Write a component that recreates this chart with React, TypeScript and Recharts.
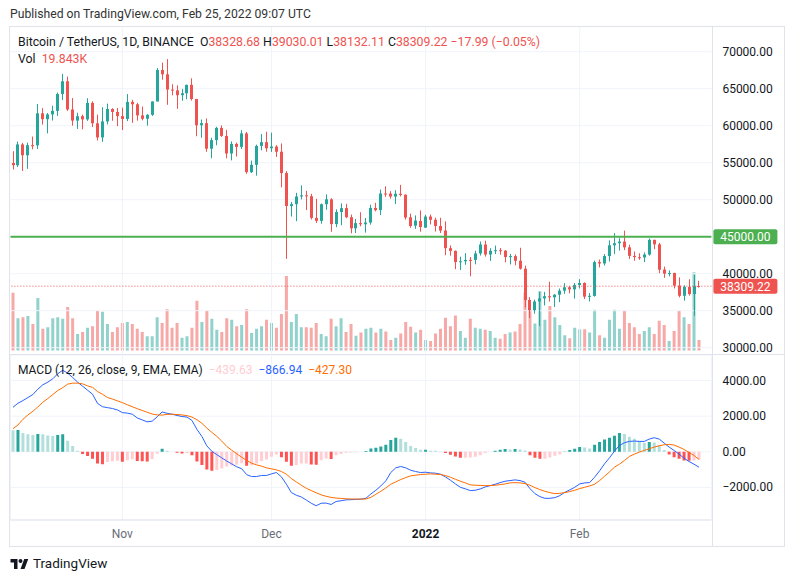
import React from 'react';
import { ComposedChart, Bar, Line, XAxis, YAxis, CartesianGrid, ReferenceLine, Cell } from 'recharts';

// daily candles, BTC/USDT on Binance, from 2021-10-10 to 2022-02-25
const firstDay = Date.UTC(2021, 9, 10);
const padDays = 2;

const opens = [
  54952, 54660, 57471, 56006, 57370, 57347, 61672, 60875, 61528, 62005,
  64280, 66002, 62193, 60689, 61286, 60852, 63078, 60328, 58413, 60575,
  62253, 61859, 61300, 60911, 63220, 62896, 61396, 60941, 61470, 63274,
  67525, 66947, 64883, 64774, 64123, 64380, 65519, 63607, 60059, 60345,
  56892, 58052, 59707, 58617, 56247, 57541, 57138, 58960, 53723, 54716,
  57274, 57776, 56950, 57184, 56485, 53601, 49153, 49397, 50441, 50588,
  50471, 47535, 47140, 49389, 50053, 46702, 48336, 48864, 47632, 46134,
  46834, 46681, 46914, 48887, 48588, 50839, 50820, 50428, 50802, 50679,
  47623, 46490, 47120, 46216, 47722, 47286, 46446, 45832, 43451, 43082,
  41567, 41679, 41865, 41865, 42736, 43946, 42592, 43099, 43177, 43114,
  42250, 42375, 41744, 40680, 36445, 35071, 36244, 36660, 36958, 36807,
  37161, 37712, 38166, 37882, 38467, 38744, 36897, 37005, 41571, 41382,
  42380, 43840, 44118, 44339, 43565, 42408, 42236, 42198, 42586, 44578,
  43961, 40552, 40000, 40100, 38386, 37017, 38230, 37250, 38328.68,
];
const highs = [
  56561, 57839, 57680, 57700, 58532, 62933, 62378, 61718, 62695, 64486,
  67000, 66639, 63733, 61747, 61500, 63710, 63293, 61496, 62499, 62980,
  62359, 62405, 62437, 64270, 63500, 63086, 62595, 61560, 63286, 67789,
  68524, 69000, 65600, 65450, 64971, 65550, 66401, 63617, 60840, 60977,
  58367, 59845, 60029, 59444, 57875, 57710, 59398, 59150, 55280, 57445,
  58865, 59176, 59053, 57375, 57600, 53860, 49700, 50935, 51936, 51200,
  50797, 50125, 49485, 50724, 50205, 48700, 49500, 49436, 47995, 47392,
  48300, 47537, 49328, 49576, 51375, 51810, 51156, 51280, 52000, 50704,
  48119, 47879, 48548, 47954, 47990, 47570, 47557, 47070, 43817, 43145,
  42300, 42786, 42248, 43100, 44350, 44459, 43448, 43800, 43476, 43179,
  42675, 42600, 43505, 41100, 36835, 36499, 37550, 37545, 38919, 37234,
  38000, 38720, 38360, 38744, 39265, 38835, 37387, 41772, 41913, 42656,
  44500, 45492, 44795, 45821, 43920, 43000, 42760, 42876, 44769, 44578,
  44164, 40960, 40444, 40126, 39494, 38429, 39249, 39843, 39030.01,
];
const lows = [
  54080, 54415, 53879, 54167, 56818, 56850, 60150, 58963, 60694, 61322,
  63481, 62000, 60000, 59562, 59510, 60650, 59817, 58000, 57820, 60174,
  60673, 59945, 59405, 60624, 60382, 60677, 60721, 60005, 61322, 63273,
  66222, 62822, 64100, 62278, 63360, 63576, 63400, 58575, 58373, 56474,
  55600, 57353, 58486, 55610, 55317, 55837, 56855, 53500, 53610, 53256,
  56666, 56480, 56458, 55777, 51680, 42000, 47727, 47100, 50039, 48600,
  47320, 46852, 46751, 48650, 45673, 46290, 46547, 47511, 45456, 45500,
  46406, 45558, 46630, 48421, 47920, 50384, 50142, 49412, 50449, 47313,
  46201, 46060, 45678, 46208, 46654, 45696, 45500, 42500, 42430, 40610,
  40501, 41200, 39650, 41268, 42450, 42311, 41725, 42654, 42578, 41540,
  41250, 41138, 40553, 35440, 34008, 34601, 32917, 35701, 36234, 35507,
  36155, 37268, 37352, 36632, 38000, 36586, 36250, 36900, 40843, 41116,
  41645, 42667, 43117, 43188, 42000, 41748, 41880, 41571, 42428, 43310,
  40073, 39450, 39639, 38000, 36800, 36350, 37036, 34322, 38132.11,
];
const closes = [
  54660, 57471, 56006, 57367, 57347, 61672, 60875, 61528, 62010, 64280,
  66001, 62193, 60689, 61286, 60852, 63078, 60328, 58413, 60575, 62253,
  61859, 61299, 60911, 63219, 62896, 61395, 60937, 61470, 63273, 67525,
  66947, 64882, 64774, 64122, 64380, 65519, 63607, 60058, 60345, 56892,
  58052, 59707, 58622, 56247, 57541, 57139, 58960, 53726, 54721, 57274,
  57776, 56950, 57184, 56480, 53601, 49152, 49397, 50441, 50588, 50471,
  47545, 47140, 49389, 50053, 46702, 48343, 48864, 47632, 46131, 46834,
  46681, 46914, 48890, 48589, 50838, 50821, 50429, 50809, 50640, 47588,
  46444, 47178, 46306, 47722, 47286, 46446, 45832, 43451, 43082, 41567,
  41679, 41864, 41822, 42736, 43949, 42592, 43100, 43177, 43114, 42250,
  42375, 41744, 40680, 36445, 35071, 36244, 36660, 36958, 36810, 37161,
  37712, 38166, 37881, 38467, 38744, 36897, 37005, 41571, 41382, 42380,
  43840, 44118, 44338, 43565, 42407, 42244, 42197, 42586, 44575, 43961,
  40538, 40000, 40100, 38386, 37017, 38230, 37250, 38328.68, 38309.22,
];
// volume in thousands of BTC
const volumes = [
  109, 61, 63, 65, 50, 99, 41, 44, 61, 63,
  60, 82, 61, 31, 35, 43, 46, 75, 73, 50,
  35, 44, 52, 54, 50, 41, 35, 27, 27, 63,
  52, 78, 43, 52, 24, 27, 43, 94, 54, 75,
  60, 39, 35, 61, 58, 46, 48, 78, 33, 41,
  46, 58, 52, 43, 69, 141, 54, 69, 44, 44,
  43, 52, 31, 27, 60, 46, 61, 35, 50, 28,
  34, 41, 43, 34, 41, 36, 20, 24, 32, 54,
  45, 34, 39, 20, 18, 32, 41, 62, 46, 66,
  37, 24, 60, 43, 41, 39, 37, 24, 22, 31,
  34, 36, 50, 109, 77, 51, 112, 58, 84, 63,
  48, 29, 23, 43, 40, 40, 34, 77, 29, 24,
  58, 77, 41, 75, 52, 44, 31, 37, 44, 31,
  56, 48, 18, 37, 75, 63, 50, 148, 19.843,
];
const macdLine = [
  2500, 2726, 2876, 3046, 3215, 3516, 3760, 3910, 4098, 4380,
  4580, 4418, 4174, 3910, 3685, 3459, 3234, 2720, 2530, 2480,
  2430, 2350, 2200, 2170, 2110, 1900, 1790, 1680, 1720, 1960,
  2237, 2160, 2110, 2040, 1980, 1950, 1760, 1260, 860, 330,
  30, -160, -340, -520, -680, -840, -950, -1280, -1390, -1390,
  -1330, -1330, -1240, -1165, -1410, -1820, -2290, -2440, -2540, -2710,
  -2890, -3030, -2890, -2880, -2960, -2790, -2750, -2700, -2690, -2675,
  -2660, -2613, -2369, -2162, -1918, -1636, -1166, -902, -827, -902,
  -1034, -1109, -1166, -1147, -1184, -1203, -1260, -1410, -1598, -1805,
  -1993, -2080, -2180, -2160, -2087, -1974, -1899, -1824, -1730, -1654,
  -1617, -1579, -1617, -1711, -2068, -2350, -2519, -2613, -2613, -2576,
  -2463, -2275, -2143, -1993, -1805, -1748, -1730, -1429, -1072, -677,
  -338, 38, 357, 508, 583, 602, 583, 583, 714, 790,
  714, 489, 263, 75, -132, -357, -545, -696, -866.94,
];
const signalLine = [
  1297, 1504, 1824, 2068, 2275, 2519, 2780, 2989, 3215, 3440,
  3600, 3798, 3854, 3854, 3816, 3700, 3620, 3384, 3230, 3050,
  2960, 2860, 2760, 2640, 2530, 2420, 2320, 2220, 2120, 2070,
  2060, 2100, 2110, 2090, 2070, 2030, 1950, 1800, 1600, 1330,
  1090, 870, 600, 300, 90, -113, -301, -489, -639, -733,
  -808, -902, -959, -1015, -1109, -1260, -1504, -1692, -1880, -2050,
  -2180, -2300, -2420, -2500, -2560, -2600, -2620, -2640, -2650, -2655,
  -2655, -2651, -2557, -2388, -2218, -2030, -1824, -1692, -1560, -1447,
  -1354, -1316, -1278, -1260, -1241, -1260, -1278, -1335, -1429, -1542,
  -1654, -1748, -1860, -1880, -1890, -1899, -1899, -1880, -1842, -1805,
  -1748, -1730, -1748, -1786, -1880, -2012, -2124, -2218, -2294, -2350,
  -2331, -2294, -2237, -2162, -2068, -1993, -1918, -1824, -1617, -1372,
  -1128, -865, -696, -489, -263, -132, -19, 75, 169, 263,
  338, 395, 414, 376, 263, 132, -38, -207, -427.3,
];

const priceTicks = [30000, 35000, 40000, 45000, 50000, 55000, 60000, 65000, 70000];
const macdTicks = [-2000, 0, 2000, 4000];
const monthStarts = ['2021-11-01', '2021-12-01', '2022-01-01', '2022-02-01'];
const monthNames = ['Nov', 'Dec', '2022', 'Feb'];
const levelLine = 45000;

const PRICE_DOMAIN = [29081, 73338];
const VOL_DOMAIN = [-7.56, 611.4];
const MACD_DOMAIN = [-3831, 5435];

const UP = '#26a69a';
const DOWN = '#ef5350';
const GRID = '#f0f3fa';
const FRAME = '#e0e3eb';
const TEXT = '#131722';
const FONT = "-apple-system, 'Trebuchet MS', Roboto, Ubuntu, sans-serif";

const dayKey = (i: number) => new Date(firstDay + i * 86400000).toISOString().slice(0, 10);

const rows = Array.from({ length: closes.length + padDays }, (_, i) => {
  const day = dayKey(i);
  if (i >= closes.length) return { day } as any;
  const hist = macdLine[i] - signalLine[i];
  const prev = i > 0 ? macdLine[i - 1] - signalLine[i - 1] : hist;
  return {
    day,
    open: opens[i],
    high: highs[i],
    low: lows[i],
    close: closes[i],
    vol: volumes[i],
    macd: macdLine[i],
    signal: signalLine[i],
    hist,
    prevHist: prev,
  };
});

const lastClose = closes[closes.length - 1];
// the level tag covers its own scale label, as on the original
const scaleTicks = priceTicks.filter((t) => t !== levelLine);

function histColor(h: number, prev: number) {
  if (h >= 0) return h > prev ? '#26a69a' : '#b2dfdb';
  return h < prev ? '#ff5252' : '#ffcdd2';
}

function Candle(props: any) {
  const { x, y, width, height, payload } = props;
  if (!payload || payload.open == null || height == null) return null;
  const { open, high, low, close } = payload;
  const top = Math.min(y, y + height);
  const span = Math.abs(height);
  const k = span / (high - low);
  const color = close >= open ? UP : DOWN;
  const cx = Math.floor(x + width / 2) + 0.5;
  const yo = top + (high - open) * k;
  const yc = top + (high - close) * k;
  const bodyTop = Math.min(yo, yc);
  const bodyH = Math.max(1, Math.abs(yo - yc));
  return (
    <g>
      <line x1={cx} x2={cx} y1={top} y2={top + span} stroke={color} strokeWidth={1} />
      <rect x={cx - 1.5} y={bodyTop} width={3} height={bodyH} fill={color} />
    </g>
  );
}

function PriceTag(props: any) {
  const { viewBox, color, text } = props;
  if (!viewBox) return null;
  const x = viewBox.x + viewBox.width + 2;
  const y = viewBox.y;
  return (
    <g>
      <rect x={x} y={y - 7.5} width={64} height={15} rx={2} fill={color} />
      <text x={x + 32} y={y + 4.3} textAnchor="middle" fontSize={12} fill="#ffffff" fontFamily={FONT}>
        {text}
      </text>
    </g>
  );
}

function RightTick(props: any) {
  const { x, y, payload } = props;
  const v = payload.value as number;
  const label = (v < 0 ? '\u2212' : '') + Math.abs(v).toFixed(2);
  return (
    <text x={x + 3} y={y + 4} fontSize={12} fill={TEXT} fontFamily={FONT} textAnchor="start">
      {label}
    </text>
  );
}

function MonthTick(props: any) {
  const { x, y, payload } = props;
  const idx = monthStarts.indexOf(payload.value);
  const name = monthNames[idx] ?? '';
  const isYear = /^\d{4}$/.test(name);
  return (
    <text x={x} y={y + 10} fontSize={12} textAnchor="middle" fontFamily={FONT}
      fill={isYear ? TEXT : '#6a6d78'} fontWeight={isYear ? 700 : 400}>
      {name}
    </text>
  );
}

const abs = (left: number, top: number): React.CSSProperties => ({ position: 'absolute', left, top });

function Legend() {
  const red = { color: DOWN };
  return (
    <>
      <div style={{ ...abs(10, 7), fontSize: 12.2, color: '#333', whiteSpace: 'nowrap', lineHeight: '15px' }}>
        Published on TradingView.com, Feb 25, 2022 09:07 UTC
      </div>
      <div style={{ ...abs(18, 35), fontSize: 12.3, color: TEXT, whiteSpace: 'nowrap', lineHeight: '14px' }}>
        Bitcoin / TetherUS, 1D, BINANCE&nbsp;&nbsp;O<span style={red}>{opens[opens.length - 1].toFixed(2)}</span>
        {' '}H<span style={red}>{highs[highs.length - 1].toFixed(2)}</span>
        {' '}L<span style={red}>{lows[lows.length - 1].toFixed(2)}</span>
        {' '}C<span style={red}>{lastClose.toFixed(2)} {'\u2212'}17.99 ({'\u2212'}0.05%)</span>
      </div>
      <div style={{ ...abs(18, 52), fontSize: 12.3, color: TEXT, whiteSpace: 'nowrap', lineHeight: '14px' }}>
        Vol&nbsp;&nbsp;<span style={red}>{volumes[volumes.length - 1].toFixed(3)}K</span>
      </div>
      <div style={{ ...abs(18, 363), fontSize: 12, color: TEXT, whiteSpace: 'nowrap', lineHeight: '14px' }}>
        MACD (12, 26, close, 9, EMA, EMA)&nbsp;&nbsp;
        <span style={{ color: '#ffcdd2' }}>{'\u2212'}439.63</span>&nbsp;&nbsp;
        <span style={{ color: '#2962ff' }}>{'\u2212'}866.94</span>&nbsp;&nbsp;
        <span style={{ color: '#ff6d00' }}>{'\u2212'}427.30</span>
      </div>
      <div style={{ ...abs(10, 555), display: 'flex', alignItems: 'center', gap: 4, fontSize: 13.5, color: TEXT, lineHeight: '16px' }}>
        <svg width={19} height={13} viewBox="0 0 36 26">
          <path d="M14 24H7V11H0V4h14v20zM28 24h-8l7.5-20h8L28 24zM20 4a4 4 0 1 1 0 8 4 4 0 0 1 0-8z" fill={TEXT} />
        </svg>
        <span>TradingView</span>
      </div>
    </>
  );
}

function Frame() {
  const line = (l: number, t: number, w: number, h: number) => (
    <div style={{ ...abs(l, t), width: w, height: h, background: FRAME }} />
  );
  return (
    <>
      <div style={{ ...abs(9, 26), width: 776, height: 521, border: `1px solid ${FRAME}`, boxSizing: 'border-box' }} />
      {line(712, 26, 1, 521)}
      {line(9, 354, 776, 1)}
    </>
  );
}

export default function App() {
  return (
    <div style={{ position: 'absolute', left: 0, top: 0, width: 793, height: 582, background: '#fff', fontFamily: FONT, overflow: 'hidden' }}>
      <Frame />

      {/* price pane, back layer: grid + volume */}
      <div style={abs(0, 0)}>
        <ComposedChart width={793} height={355} data={rows} margin={{ top: 27, right: 81.6, bottom: 0.5, left: 10.5 }}>
          <XAxis dataKey="day" hide />
          <YAxis yAxisId="p" hide type="number" domain={PRICE_DOMAIN} allowDataOverflow />
          <YAxis yAxisId="v" hide type="number" domain={VOL_DOMAIN} allowDataOverflow />
          {priceTicks.map((t) => (
            <ReferenceLine key={t} yAxisId="p" y={t} stroke={GRID} strokeWidth={1} />
          ))}
          {monthStarts.map((d) => (
            <ReferenceLine key={d} yAxisId="p" x={d} stroke={GRID} strokeWidth={1} />
          ))}
          <Bar yAxisId="v" dataKey="vol" barSize={3} isAnimationActive={false}>
            {rows.map((r, i) => (
              <Cell key={i} fill={r.close >= r.open ? 'rgba(38,166,154,0.5)' : 'rgba(239,83,80,0.5)'} />
            ))}
          </Bar>
        </ComposedChart>
      </div>

      {/* price pane, front layer: candles, levels, price scale */}
      <div style={abs(0, 0)}>
        <ComposedChart width={793} height={355} data={rows} margin={{ top: 27, right: 8, bottom: 0.5, left: 10.5 }}>
          <XAxis dataKey="day" hide />
          <YAxis yAxisId="p" orientation="right" width={73.6} type="number" domain={PRICE_DOMAIN} allowDataOverflow
            ticks={scaleTicks} interval={0} tick={<RightTick />} tickLine={false} axisLine={false} />
          <ReferenceLine yAxisId="p" y={levelLine} stroke="#4caf50" strokeWidth={2}
            label={<PriceTag color="#4caf50" text={levelLine.toFixed(2)} />} />
          <ReferenceLine yAxisId="p" y={lastClose} stroke={DOWN} strokeWidth={1} strokeDasharray="1 2"
            label={<PriceTag color={DOWN} text={lastClose.toFixed(2)} />} />
          <Bar yAxisId="p" dataKey={(r: any) => (r.high == null ? null : [r.low, r.high])} barSize={3}
            shape={(p: any) => <Candle {...p} />} isAnimationActive={false} />
        </ComposedChart>
      </div>

      {/* MACD pane */}
      <div style={abs(0, 355)}>
        <ComposedChart width={793} height={192} data={rows} margin={{ top: 0, right: 8, bottom: 0, left: 10.5 }}>
          <CartesianGrid stroke={GRID} />
          <XAxis dataKey="day" ticks={monthStarts} interval={0} tick={<MonthTick />} tickLine={false}
            axisLine={{ stroke: FRAME }} height={27} />
          <YAxis orientation="right" width={73.6} type="number" domain={MACD_DOMAIN} allowDataOverflow
            ticks={macdTicks} interval={0} tick={<RightTick />} tickLine={false} axisLine={false} />
          <Bar dataKey="hist" barSize={3} isAnimationActive={false}>
            {rows.map((r, i) => (
              <Cell key={i} fill={r.hist == null ? 'none' : histColor(r.hist, r.prevHist)} />
            ))}
          </Bar>
          <Line dataKey="macd" type="linear" stroke="#2962ff" strokeWidth={1} dot={false} isAnimationActive={false} />
          <Line dataKey="signal" type="linear" stroke="#ff6d00" strokeWidth={1} dot={false} isAnimationActive={false} />
        </ComposedChart>
      </div>

      <Legend />
    </div>
  );
}
